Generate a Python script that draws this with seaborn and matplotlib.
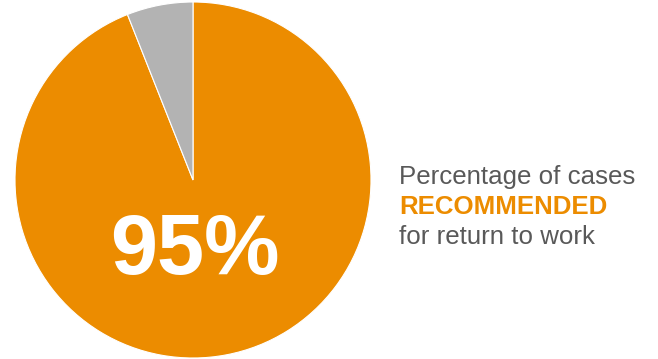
import matplotlib
matplotlib.use("Agg")
import matplotlib.pyplot as plt
import seaborn as sns

# data
slice_labels = ["Recommended", "Other"]
slice_values = [94, 6]
slice_colors = ["#EC8C00", "#B3B3B3"]
big_label    = "95%"
caption      = ["Percentage of cases", "RECOMMENDED", "for return to work"]

sns.set_theme(style="white")
plt.rcParams["font.family"] = ["Liberation Sans", "DejaVu Sans"]

fig = plt.figure(figsize=(6.58, 3.59), dpi=100)
ax = fig.add_axes([15 / 658, 1 / 359, 356 / 658, 356 / 359])
ax.pie(slice_values, colors=slice_colors, startangle=90, counterclock=False,
       wedgeprops={"edgecolor": "white", "linewidth": 0.8})
ax.set_aspect("equal")
ax.set_xlim(-1, 1)
ax.set_ylim(-1, 1)
ax.axis("off")

# big number on the orange slice
fig.text(194.5 / 658, 1 - 252 / 359, big_label, color="white", fontsize=61,
         fontweight="bold", ha="center", va="center")

# caption on the right
x0 = 399 / 658
fig.text(x0, 1 - 184 / 359, caption[0], color="#595959", fontsize=18.6,
         ha="left", va="baseline")
fig.text(x0, 1 - 214 / 359, caption[1], color="#EC8C00", fontsize=18.6,
         fontweight="bold", ha="left", va="baseline")
fig.text(x0, 1 - 244 / 359, caption[2], color="#595959", fontsize=18.6,
         ha="left", va="baseline")

fig.savefig("out.png", dpi=100, facecolor="white")
